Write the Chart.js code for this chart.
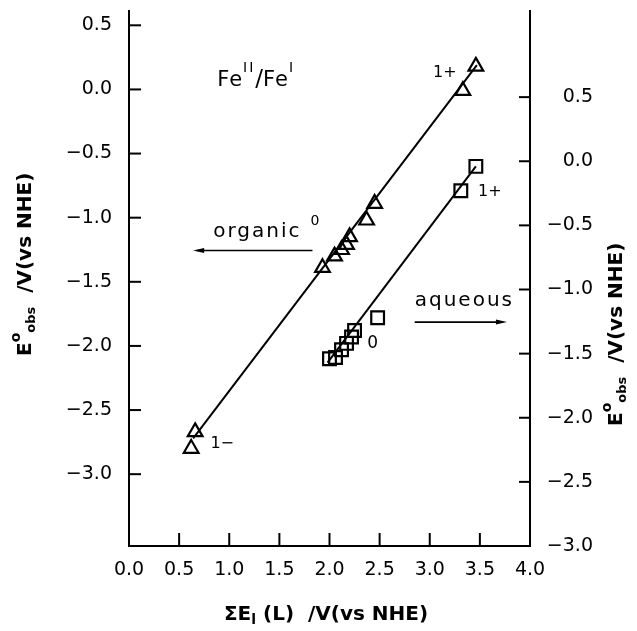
<!DOCTYPE html>
<html>
<head>
<meta charset="utf-8">
<script src="https://cdn.jsdelivr.net/npm/chart.js@4.4.1/dist/chart.umd.min.js"></script>
<style>
  html, body { margin: 0; padding: 0; background: #fff; }
  #wrap { width: 637px; height: 631px; }
</style>
</head>
<body>
<div id="wrap"><canvas id="chart" width="637" height="631"></canvas></div>
<script>
// Fe(II)/Fe(I) couples: organic solvent (left axis) and water (right axis)
const organicX = [0.62, 0.66, 1.93, 2.05, 2.12, 2.17, 2.20, 2.37, 2.45, 3.33, 3.46];
const organicY = [-2.80, -2.67, -1.39, -1.30, -1.25, -1.21, -1.15, -1.02, -0.89, -0.01, 0.18];
const aqueousX = [2.00, 2.06, 2.12, 2.17, 2.22, 2.25, 2.48, 3.31, 3.46];
const aqueousY = [-1.54, -1.53, -1.47, -1.42, -1.37, -1.32, -1.22, -0.23, -0.04];

// fitted lines at their two ends
const organicFitX = [0.64, 3.47];
const organicFitY = [-2.72, 0.19];
const aqueousFitX = [1.98, 3.46];
const aqueousFitY = [-1.57, -0.04];

const xTicks = [0, 0.5, 1.0, 1.5, 2.0, 2.5, 3.0, 3.5, 4.0];
const leftTicks = [0.5, 0.0, -0.5, -1.0, -1.5, -2.0, -2.5, -3.0];
const rightTicks = [0.5, 0.0, -0.5, -1.0, -1.5, -2.0, -2.5, -3.0];

const TICK_FONT = { family: 'DejaVu Sans', size: 19 };
const FONT = 'DejaVu Sans';

function fmt(v) {
  return (v < 0 ? '\u2212' : '') + Math.abs(v).toFixed(1);
}

function pts(xs, ys) {
  return xs.map((x, i) => ({ x, y: ys[i] }));
}

// text labels placed in axis units (x, left-axis y)
const notes = [
  { x: 3.15, y: 0.13, parts: [{ t: '1+', s: 16 }], align: 'center' },
  { x: 0.93, y: -2.76, parts: [{ t: '1\u2212', s: 16 }], align: 'center' },
  { x: 2.43, y: -1.985, parts: [{ t: '0', s: 17 }], align: 'center' },
  { x: 3.60, y: -0.80, parts: [{ t: '1+', s: 16 }], align: 'center' },
  {
    x: 0.88, y: 0.07, align: 'left',
    parts: [
      { t: 'Fe', s: 21, ls: 1 }, { t: 'II', s: 14, dy: -12, ls: 2 }, { t: '/', s: 23 },
      { t: 'Fe', s: 21, ls: 1 }, { t: 'I', s: 14, dy: -12 },
    ],
  },
  { x: 0.84, y: -1.11, parts: [{ t: 'organic', s: 20, ls: 2 }, { t: '  ', s: 14 }, { t: '0', s: 14, dy: -10 }], align: 'left' },
  { x: 2.85, y: -1.65, parts: [{ t: 'aqueous', s: 20, ls: 2 }], align: 'left' },
];
const arrows = [
  { x0: 1.83, x1: 0.64, y: -1.256 },
  { x0: 2.85, x1: 3.77, y: -1.814 },
];

function drawRich(ctx, parts, x, y, align, bold) {
  const w = parts.map((p) => {
    ctx.font = `${bold ? 'bold ' : ''}${p.s}px "${FONT}"`;
    ctx.letterSpacing = (p.ls || 0) + 'px';
    return ctx.measureText(p.t).width;
  });
  const total = w.reduce((a, b) => a + b, 0);
  let cx = align === 'center' ? x - total / 2 : x;
  ctx.textAlign = 'left';
  ctx.textBaseline = 'middle';
  parts.forEach((p, i) => {
    ctx.font = `${bold ? 'bold ' : ''}${p.s}px "${FONT}"`;
    ctx.letterSpacing = (p.ls || 0) + 'px';
    ctx.fillText(p.t, cx, y + (p.dy || 0));
    cx += w[i];
  });
  ctx.letterSpacing = '0px';
}

const decor = {
  id: 'decor',
  afterDraw(chart) {
    const { ctx, scales } = chart;
    const sx = scales.x, sy = scales.y, sy2 = scales.y2;
    const area = chart.chartArea;
    ctx.save();
    ctx.strokeStyle = '#000';
    ctx.fillStyle = '#000';
    ctx.lineWidth = 2;
    // inward tick marks
    xTicks.forEach((v) => {
      if (v <= 0 || v >= 4) return;
      const px = sx.getPixelForValue(v);
      ctx.beginPath(); ctx.moveTo(px, area.bottom); ctx.lineTo(px, area.bottom - 13); ctx.stroke();
    });
    leftTicks.forEach((v) => {
      const py = sy.getPixelForValue(v);
      ctx.beginPath(); ctx.moveTo(area.left, py); ctx.lineTo(area.left + 12, py); ctx.stroke();
    });
    rightTicks.forEach((v) => {
      const py = sy2.getPixelForValue(v);
      if (py > area.bottom - 2) return;
      ctx.beginPath(); ctx.moveTo(area.right, py); ctx.lineTo(area.right - 11, py); ctx.stroke();
    });

    // notes and arrows
    notes.forEach((n) => {
      drawRich(ctx, n.parts, sx.getPixelForValue(n.x), sy.getPixelForValue(n.y), n.align, false);
    });
    ctx.lineWidth = 1.6;
    arrows.forEach((a) => {
      const x0 = sx.getPixelForValue(a.x0), x1 = sx.getPixelForValue(a.x1), py = sy.getPixelForValue(a.y);
      const dir = Math.sign(x1 - x0);
      ctx.beginPath(); ctx.moveTo(x0, py); ctx.lineTo(x1 - dir * 4, py); ctx.stroke();
      ctx.beginPath();
      ctx.moveTo(x1, py); ctx.lineTo(x1 - dir * 11, py - 2.5); ctx.lineTo(x1 - dir * 11, py + 2.5);
      ctx.closePath(); ctx.fill();
    });

    // axis titles
    drawRich(ctx, [{ t: '\u03A3E', s: 20 }, { t: 'l', s: 14, dy: 5 }, { t: ' (L)  /V(vs NHE)', s: 20 }], 326, 615, 'center', true);
    const yTitle = [{ t: 'E', s: 20 }, { t: 'o', s: 14, dy: -10 }, { t: 'obs', s: 13, dy: 6 }, { t: '  /V(vs NHE)', s: 20 }];
    ctx.save(); ctx.translate(26, 356); ctx.rotate(-Math.PI / 2);
    drawRich(ctx, yTitle, 0, 0, 'left', true);
    ctx.restore();
    ctx.save(); ctx.translate(617, 426); ctx.rotate(-Math.PI / 2);
    drawRich(ctx, yTitle, 0, 0, 'left', true);
    ctx.restore();
    ctx.restore();
  },
};

const plainGrid = { display: false, drawTicks: false, tickLength: 0 };
const border = { display: true, color: '#000', width: 2 };

function noPadY(s, w) {
  s.width = w;
  s.paddingTop = 0;
  s.paddingBottom = 0;
}

new Chart(document.getElementById('chart'), {
  type: 'scatter',
  data: {
    datasets: [
      {
        label: 'organic fit', data: pts(organicFitX, organicFitY), yAxisID: 'y',
        showLine: true, borderColor: '#000', borderWidth: 2, pointRadius: 0,
      },
      {
        label: 'aqueous fit', data: pts(aqueousFitX, aqueousFitY), yAxisID: 'y2',
        showLine: true, borderColor: '#000', borderWidth: 2, pointRadius: 0,
      },
      {
        label: 'organic', data: pts(organicX, organicY), yAxisID: 'y',
        pointStyle: 'triangle', pointRadius: 8.5, borderColor: '#000',
        backgroundColor: 'rgba(0,0,0,0)', borderWidth: 2.2,
      },
      {
        label: 'aqueous', data: pts(aqueousX, aqueousY), yAxisID: 'y2',
        pointStyle: 'rect', pointRadius: 9, borderColor: '#000',
        backgroundColor: 'rgba(0,0,0,0)', borderWidth: 2.2,
      },
    ],
  },
  options: {
    responsive: false,
    animation: false,
    devicePixelRatio: 1,
    layout: { padding: { top: 8, left: 0, right: 44, bottom: 0 } },
    plugins: { legend: { display: false }, tooltip: { enabled: false } },
    scales: {
      x: {
        type: 'linear', position: 'bottom', min: 0, max: 4,
        grid: plainGrid, border,
        afterBuildTicks: (s) => { s.ticks = xTicks.map((v) => ({ value: v })); },
        afterFit: (s) => { s.height = 85; s.paddingLeft = 0; s.paddingRight = 0; },
        ticks: { font: TICK_FONT, color: '#000', padding: 13, maxRotation: 0, autoSkip: false, callback: fmt },
      },
      y: {
        type: 'linear', position: 'left', min: -3.56, max: 0.61,
        grid: plainGrid, border,
        afterBuildTicks: (s) => { s.ticks = leftTicks.map((v) => ({ value: v })); },
        afterFit: (s) => noPadY(s, 129),
        ticks: { font: TICK_FONT, color: '#000', padding: 17, autoSkip: false, callback: fmt },
      },
      y2: {
        type: 'linear', position: 'right', min: -3.0, max: 1.17,
        grid: plainGrid, border,
        afterBuildTicks: (s) => { s.ticks = rightTicks.map((v) => ({ value: v })); },
        afterFit: (s) => noPadY(s, 63),
        ticks: { font: TICK_FONT, color: '#000', padding: 17, autoSkip: false, crossAlign: 'far', callback: fmt },
      },
    },
  },
  plugins: [decor],
});
</script>
</body>
</html>
